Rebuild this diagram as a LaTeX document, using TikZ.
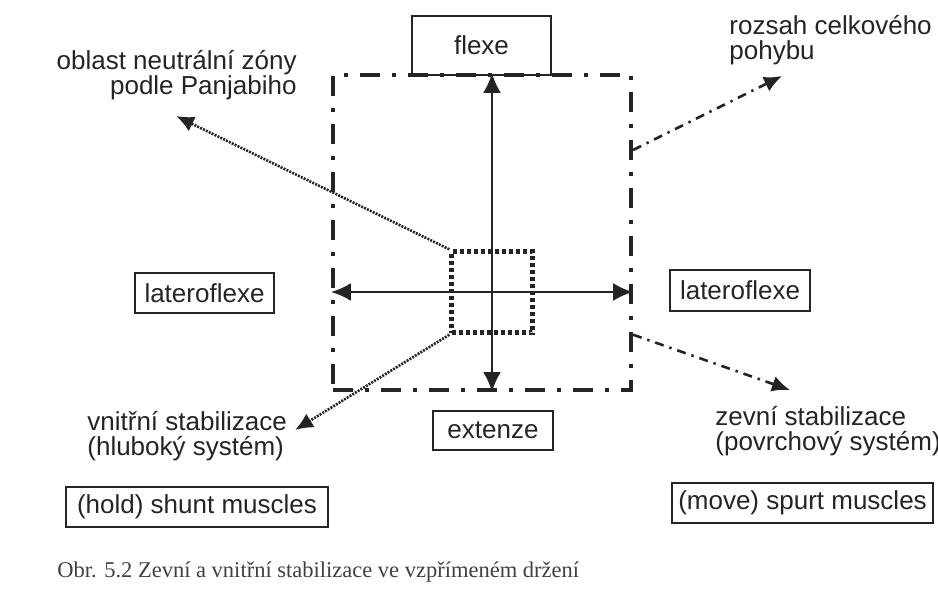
\documentclass[tikz,border=0pt]{standalone}
\usepackage{fontspec}
\setmainfont{Liberation Sans}
\newfontfamily\captionfont{Liberation Serif}
\usetikzlibrary{arrows.meta}
\usetikzlibrary{calc}
\definecolor{ink}{HTML}{242424}
\definecolor{caption ink}{HTML}{404040}
\tikzset{
    label box/.style={
        draw=ink,
        line width=1pt,
        inner sep=0,
        text=ink,
        font=\fontsize{13}{12.5}\selectfont,
    },
    label text/.style={
        inner sep=0,
        text=ink,
        font=\fontsize{13}{12.5}\selectfont,
    },
    range frame/.style={
        draw=ink,
        line width=2.1pt,
        dash pattern=on 10pt off 6pt on 2pt off 6pt,
        inner sep=0,
    },
    neutral zone/.style={
        draw=ink,
        line width=2.2pt,
        dash pattern=on 2pt off 1.5pt,
        inner sep=0,
        minimum size=40.5pt,
    },
    motion arrow/.style={
        draw=ink,
        line width=1.3pt,
        {Latex[length=10pt,width=9pt]}-{Latex[length=10pt,width=9pt]},
    },
    deep arrow/.style={
        draw=ink,
        line width=1.3pt,
        dash pattern=on 1pt off 0.6pt,
        -{Latex[length=9pt,width=8pt]},
    },
    surface arrow/.style={
        draw=ink,
        line width=1.3pt,
        dash pattern=on 4.5pt off 3pt on 1.2pt off 3pt,
        -{Latex[length=9pt,width=8pt]},
    },
}
\begin{document}
\begin{tikzpicture}[x=0.5pt, y=-0.5pt]
    \useasboundingbox (0,0) rectangle (938,616);

    % range of motion and neutral zone
    \node[range frame, minimum width=149pt, minimum height=157.5pt] (frame) at (482,232.5) {};
    \node[neutral zone] (core) at (492,292) {};

    \draw[motion arrow] (core |- frame.north) -- (core |- frame.south);
    \draw[motion arrow] (core -| frame.west) -- (core -| frame.east);

    % movement directions
    \node[label box, minimum width=69.5pt, minimum height=29.5pt] (flexe) at (481.5,45.5) {flexe};
    \node[label box, minimum width=60pt, minimum height=19.5pt] (extenze) at (493,430.5) {extenze};
    \node[label box, minimum width=69.5pt, minimum height=20pt] (latero left) at (204.5,293) {lateroflexe};
    \node[label box, minimum width=70pt, minimum height=20.5pt] (latero right) at (740,290.5) {lateroflexe};

    % muscle groups
    \node[label box, minimum width=131pt, minimum height=20pt] (hold) at (197,507) {(hold) shunt muscles};
    \node[label box, minimum width=130.5pt, minimum height=20pt] (move) at (802.5,503) {(move) spurt muscles};

    % explanations
    \node[label text, align=right, anchor=north east] (neutral text) at (297,50) {oblast neutrální zóny\\podle Panjabiho};
    \node[label text, align=left, anchor=north west] (range text) at (729,15) {rozsah celkového\\pohybu};
    \node[label text, align=left, anchor=north west] (deep text) at (87,411) {vnitřní stabilizace\\(hluboký systém)};
    \node[label text, align=left, anchor=north west] (surface text) at (715,406) {zevní stabilizace\\(povrchový systém)};

    \coordinate (neutral tip) at (176,116);
    \coordinate (deep tip) at (295,430);
    \coordinate (range tip) at (782,76);
    \coordinate (surface tip) at (790,390);
    \coordinate (upper exit) at (frame.east |- 0,150);
    \coordinate (lower exit) at (frame.east |- core.south);

    \draw[deep arrow] (core.north west) -- (neutral tip);
    \draw[deep arrow] (core.south west) -- (deep tip);
    \draw[surface arrow] (upper exit) -- (range tip);
    \draw[surface arrow] (lower exit) -- (surface tip);

    \node[anchor=base west, inner sep=0, text=caption ink, font=\captionfont\fontsize{11.25}{12}\selectfont] (caption) at (57,577)
        {Obr. 5.2 Zevní a vnitřní stabilizace ve vzpřímeném držení};

\end{tikzpicture}
\end{document}
